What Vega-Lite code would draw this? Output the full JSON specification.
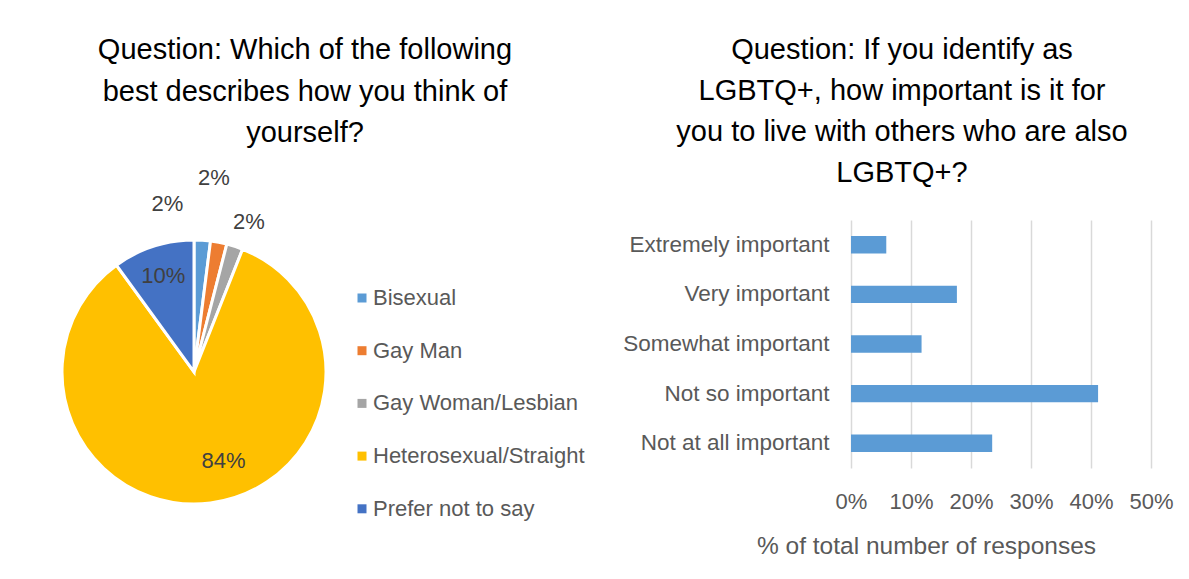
{
  "$schema": "https://vega.github.io/schema/vega-lite/v6.json",
  "background": "white",
  "padding": {"left": 56, "top": 36, "right": 10, "bottom": 5},
  "bounds": "flush",
  "spacing": 525,
  "config": {
    "view": {"stroke": null},
    "font": "Liberation Sans",
    "text": {"font": "Liberation Sans"}
  },
  "hconcat": [
    {
      "width": 264,
      "height": 304,
      "title": {
        "text": ["Question:  Which of the following", "best describes how you think of", "yourself?"],
        "fontSize": 29,
        "font": "Liberation Sans",
        "fontWeight": "normal",
        "color": "#000000",
        "lineHeight": 41.5,
        "anchor": "middle",
        "frame": "group",
        "dx": 111,
        "baseline": "alphabetic",
        "offset": -7
      },
      "data": {
        "values": [
          {"cat": "Bisexual", "pct": 0.02},
          {"cat": "Gay Man", "pct": 0.02},
          {"cat": "Gay Woman/Lesbian", "pct": 0.02},
          {"cat": "Heterosexual/Straight", "pct": 0.84},
          {"cat": "Prefer not to say", "pct": 0.10}
        ]
      },
      "layer": [
        {
          "mark": {"type": "arc", "outerRadius": 132, "stroke": "white", "strokeWidth": 3},
          "encoding": {
            "theta": {"field": "pct", "type": "quantitative", "stack": true},
            "order": {"field": "cat", "type": "nominal", "sort": "ascending"},
            "color": {
              "field": "cat",
              "type": "nominal",
              "scale": {
                "domain": ["Bisexual", "Gay Man", "Gay Woman/Lesbian", "Heterosexual/Straight", "Prefer not to say"],
                "range": ["#5b9bd5", "#ed7d31", "#a5a5a5", "#ffc000", "#4472c4"]
              },
              "legend": {
                "title": null,
                "orient": "none",
                "legendX": 289,
                "legendY": 67,
                "symbolType": "square",
                "symbolSize": 81,
                "symbolStrokeWidth": 0,
                "labelFontSize": 22,
                "labelFont": "Liberation Sans",
                "labelColor": "#595959",
                "labelOffset": 0,
                "labelLimit": 400,
                "rowPadding": 30.7,
                "padding": 0
              }
            }
          }
        },
        {
          "mark": {"type": "text", "radius": 165, "dx": -37, "dy": -3, "fontSize": 22, "color": "#404040"},
          "encoding": {
            "theta": {"field": "pct", "type": "quantitative", "stack": true},
            "order": {"field": "cat", "type": "nominal", "sort": "ascending"},
            "text": {"condition": {"test": "datum.cat === 'Bisexual'", "field": "pct", "type": "quantitative", "format": ".0%"}, "value": ""}
          }
        },
        {
          "mark": {"type": "text", "radius": 165, "dx": -11, "dy": -32, "fontSize": 22, "color": "#404040"},
          "encoding": {
            "theta": {"field": "pct", "type": "quantitative", "stack": true},
            "order": {"field": "cat", "type": "nominal", "sort": "ascending"},
            "text": {"condition": {"test": "datum.cat === 'Gay Man'", "field": "pct", "type": "quantitative", "format": ".0%"}, "value": ""}
          }
        },
        {
          "mark": {"type": "text", "radius": 165, "dx": 4, "dy": 7, "fontSize": 22, "color": "#404040"},
          "encoding": {
            "theta": {"field": "pct", "type": "quantitative", "stack": true},
            "order": {"field": "cat", "type": "nominal", "sort": "ascending"},
            "text": {"condition": {"test": "datum.cat === 'Gay Woman/Lesbian'", "field": "pct", "type": "quantitative", "format": ".0%"}, "value": ""}
          }
        },
        {
          "mark": {"type": "text", "radius": 100, "dx": 17, "dy": -10, "fontSize": 22, "color": "#404040"},
          "encoding": {
            "theta": {"field": "pct", "type": "quantitative", "stack": true},
            "order": {"field": "cat", "type": "nominal", "sort": "ascending"},
            "text": {"condition": {"test": "datum.cat === 'Heterosexual/Straight'", "field": "pct", "type": "quantitative", "format": ".0%"}, "value": ""}
          }
        },
        {
          "mark": {"type": "text", "radius": 103, "dx": 1, "dy": 2, "fontSize": 22, "color": "#404040"},
          "encoding": {
            "theta": {"field": "pct", "type": "quantitative", "stack": true},
            "order": {"field": "cat", "type": "nominal", "sort": "ascending"},
            "text": {"condition": {"test": "datum.cat === 'Prefer not to say'", "field": "pct", "type": "quantitative", "format": ".0%"}, "value": ""}
          }
        }
      ]
    },
    {
      "width": 300,
      "height": 248,
      "title": {
        "text": ["Question:  If you identify as", "LGBTQ+, how important is it for", "you to live with others who are also", "LGBTQ+?"],
        "fontSize": 29,
        "font": "Liberation Sans",
        "fontWeight": "normal",
        "color": "#000000",
        "lineHeight": 41,
        "anchor": "middle",
        "frame": "group",
        "dx": -99,
        "baseline": "alphabetic",
        "offset": 9
      },
      "data": {
        "values": [
          {"resp": "Extremely important", "share": 0.0588},
          {"resp": "Very important", "share": 0.1765},
          {"resp": "Somewhat important", "share": 0.1176},
          {"resp": "Not so important", "share": 0.4118},
          {"resp": "Not at all important", "share": 0.2353}
        ]
      },
      "mark": {"type": "bar", "color": "#5b9bd5"},
      "encoding": {
        "y": {
          "field": "resp",
          "type": "nominal",
          "sort": null,
          "scale": {"paddingInner": 0.65, "paddingOuter": 0.325},
          "axis": {
            "title": null,
            "labelFontSize": 22.5,
            "labelFont": "Liberation Sans",
            "labelColor": "#595959",
            "labelPadding": 22,
            "ticks": false,
            "tickSize": 0,
            "domain": false,
            "grid": false,
            "labelLimit": 400
          }
        },
        "x": {
          "field": "share",
          "type": "quantitative",
          "scale": {"domain": [0, 0.5]},
          "axis": {
            "format": ".0%",
            "values": [0, 0.1, 0.2, 0.3, 0.4, 0.5],
            "title": "% of total number of responses",
            "titleFontSize": 24.5,
            "titleFont": "Liberation Sans",
            "titleFontWeight": "normal",
            "titleColor": "#595959",
            "titleX": 75,
            "titleY": 85,
            "titleAlign": "center",
            "titleBaseline": "alphabetic",
            "labelFontSize": 22,
            "labelFont": "Liberation Sans",
            "labelColor": "#595959",
            "labelBaseline": "alphabetic",
            "labelPadding": 40,
            "labelFlush": false,
            "labelOverlap": false,
            "ticks": false,
            "tickSize": 0,
            "domain": false,
            "grid": true,
            "gridColor": "#d9d9d9",
            "gridWidth": 1.5
          }
        }
      }
    }
  ]
}
